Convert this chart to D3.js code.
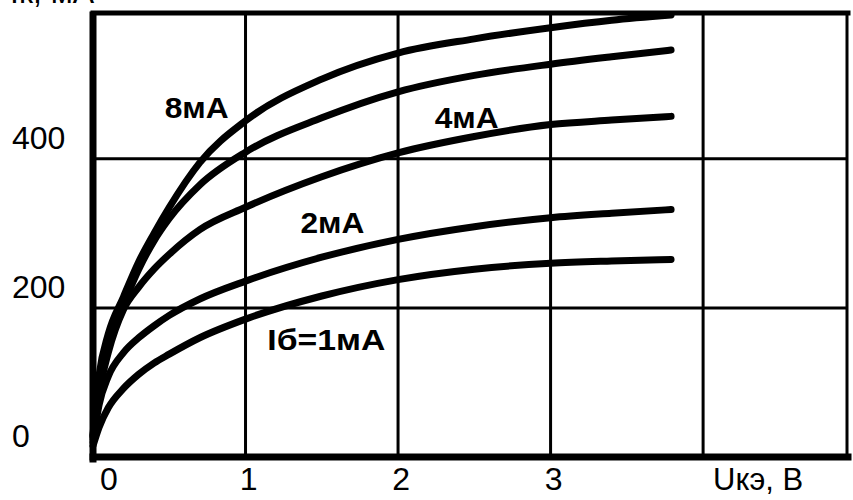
<!DOCTYPE html>
<html>
<head>
<meta charset="utf-8">
<script src="https://cdn.jsdelivr.net/npm/d3@7"></script>
<style>
  body { margin: 0; background: #fff; }
  text { font-family: "Liberation Sans", Arial, sans-serif; fill: #000; }
</style>
</head>
<body>
<div class="chart"></div>
<script>
const width = 853;
const height = 500;

// data
const uValues = [0, 0.04, 0.1, 0.2, 0.3, 0.4, 0.5, 0.7, 1, 1.5, 2, 2.5, 3, 3.4, 3.79];
const curve8mA = [30, 110, 165, 215, 262, 300, 335, 395, 451, 507, 542, 561, 576, 586, 593];
const curve6mA = [28, 100, 155, 205, 252, 290, 320, 365, 409, 455, 490, 512, 527, 537, 546];
const curve4mA = [25, 85, 140, 198, 228, 252, 272, 305, 335, 376, 408, 430, 446, 452, 457];
const curve2mA = [20, 70, 108, 140, 160, 176, 190, 212, 236, 268, 292, 309, 321, 327, 332];
const curve1mA = [15, 40, 66, 92, 111, 126, 138, 160, 185, 216, 238, 252, 260, 263, 265];

const xTicks = [0, 1, 2, 3];
const xGrid = [1, 2, 3, 4];
const yTicks = [0, 200, 400];
const yGrid = [200, 400];

const curveLabels = [
    { text: '8мА', u: 0.68, v: 455 },
    { text: '4мА', u: 2.45, v: 441 },
    { text: '2мА', u: 1.57, v: 300 },
    { text: 'Iб=1мА', u: 1.53, v: 143 }
];

const x = d3.scaleLinear().domain([0, 4.95]).range([93, 848]);
const y = d3.scaleLinear().domain([0, 593]).range([457, 15]);

const svg = d3.select('.chart')
    .append('svg')
        .attr('width', width)
        .attr('height', height);

svg.append('rect')
    .attr('width', width)
    .attr('height', height)
    .attr('fill', '#fff');

// grid
svg.selectAll('.vgrid')
    .data(xGrid)
    .enter()
    .append('line')
        .attr('x1', d => x(d))
        .attr('x2', d => x(d))
        .attr('y1', y(593))
        .attr('y2', y(0))
        .attr('stroke', '#000')
        .attr('stroke-width', 3);

svg.selectAll('.hgrid')
    .data(yGrid)
    .enter()
    .append('line')
        .attr('x1', x(0))
        .attr('x2', x(4.95))
        .attr('y1', d => y(d))
        .attr('y2', d => y(d))
        .attr('stroke', '#000')
        .attr('stroke-width', 3);

// frame
const frame = svg.append('g').attr('stroke', '#000').attr('stroke-linecap', 'square');
frame.append('line')
    .attr('x1', x(0)).attr('x2', x(4.95))
    .attr('y1', y(593) - 2).attr('y2', y(593) - 2)
    .attr('stroke-width', 5);
frame.append('line')
    .attr('x1', x(4.95) - 1).attr('x2', x(4.95) - 1)
    .attr('y1', y(593)).attr('y2', y(0))
    .attr('stroke-width', 3);
frame.append('line')
    .attr('x1', x(0)).attr('x2', x(0))
    .attr('y1', y(593)).attr('y2', y(0) + 2)
    .attr('stroke-width', 7);
frame.append('line')
    .attr('x1', x(0)).attr('x2', x(4.95))
    .attr('y1', y(0)).attr('y2', y(0))
    .attr('stroke-width', 7);

// curves
const line = d3.line()
    .x((d, i) => x(uValues[i]))
    .y(d => y(d))
    .curve(d3.curveMonotoneX);

svg.selectAll('.curve')
    .data([curve8mA, curve6mA, curve4mA, curve2mA, curve1mA])
    .enter()
    .append('path')
        .attr('d', line)
        .attr('fill', 'none')
        .attr('stroke', '#000')
        .attr('stroke-width', 7)
        .attr('stroke-linecap', 'round')
        .attr('stroke-linejoin', 'round');

// tick labels
svg.selectAll('.ylabel')
    .data(yTicks)
    .enter()
    .append('text')
        .attr('x', 12)
        .attr('y', d => y(d) - 10)
        .attr('font-size', 32)
        .text(d => d);

svg.selectAll('.xlabel')
    .data(xTicks)
    .enter()
    .append('text')
        .attr('x', d => x(d) + (d === 0 ? 16 : 3))
        .attr('y', 490)
        .attr('text-anchor', 'middle')
        .attr('font-size', 32)
        .text(d => d);

svg.append('text')
    .attr('x', x(4) + 10)
    .attr('y', 490)
    .attr('font-size', 31)
    .text('Uкэ, В');

// y axis title, mostly cut off by the top edge as in the scan
svg.append('text')
    .attr('x', 10)
    .attr('y', 3)
    .attr('font-size', 32)
    .text('Iк, мА');

// curve labels
svg.selectAll('.clabel')
    .data(curveLabels)
    .enter()
    .append('text')
        .attr('x', d => x(d.u))
        .attr('y', d => y(d.v))
        .attr('text-anchor', 'middle')
        .attr('font-size', 30)
        .attr('font-weight', 'bold')
        .attr('textLength', d => d.text.length * 18 + 10)
        .attr('lengthAdjust', 'spacingAndGlyphs')
        .text(d => d.text);
</script>
</body>
</html>
